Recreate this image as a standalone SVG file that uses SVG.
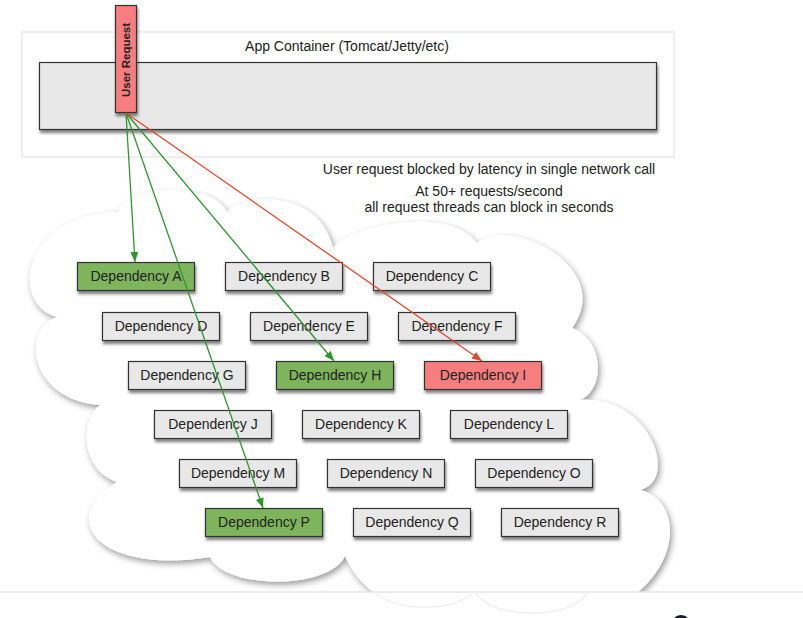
<svg xmlns="http://www.w3.org/2000/svg" width="803" height="618" viewBox="0 0 803 618">
<style>
text{font-family:"Liberation Sans",Arial,sans-serif;fill:#222}
.lbl{font-size:14px;text-anchor:middle}
.note{font-size:14px;text-anchor:middle}
.box{stroke:#333;stroke-width:1.2}
.grey{fill:#e8e8e8}
.green{fill:#7db45c}
.red{fill:#f77e7e}
.gl{stroke:#2f962f;stroke-width:1.3;fill:none}
.rl{stroke:#e2462c;stroke-width:1.3;fill:none}
</style>
<defs>
<filter id="sh" x="-10%" y="-30%" width="130%" height="170%">
<feDropShadow dx="1" dy="3" stdDeviation="1.6" flood-color="#000" flood-opacity="0.5"/>
</filter>
<filter id="csh" x="-10%" y="-10%" width="125%" height="125%">
<feDropShadow dx="2" dy="3" stdDeviation="3" flood-color="#000" flood-opacity="0.4"/>
</filter>
<clipPath id="clip"><rect x="0" y="0" width="803" height="592"/></clipPath>
<marker id="ag" viewBox="0 0 10 8" refX="10" refY="4" markerWidth="10" markerHeight="8" markerUnits="userSpaceOnUse" orient="auto"><path d="M0,0 L10,4 L0,8 z" fill="#2f962f"/></marker>
<marker id="ar" viewBox="0 0 10 8" refX="10" refY="4" markerWidth="10" markerHeight="8" markerUnits="userSpaceOnUse" orient="auto"><path d="M0,0 L10,4 L0,8 z" fill="#e2462c"/></marker>
</defs>
<rect width="803" height="618" fill="#fff"/>

<g id="container">
<rect x="22" y="32" width="652" height="125" fill="#fff" stroke="#dcdcdc" stroke-width="1"/>
<text class="note" x="347" y="51">App Container (Tomcat/Jetty/etc)</text>
<rect class="box grey" x="39.5" y="62.5" width="617" height="67" filter="url(#sh)"/>
</g>

<g id="user-request">
<rect class="box red" x="115.5" y="5.5" width="21" height="107" filter="url(#sh)"/>
<text x="0" y="0" font-size="11.5" font-weight="bold" text-anchor="middle" transform="translate(130,60) rotate(-90)">User Request</text>
</g>

<g id="notes">
<text class="note" x="489" y="174">User request blocked by latency in single network call</text>
<text class="note" x="489" y="196">At 50+ requests/second</text>
<text class="note" x="489" y="212">all request threads can block in seconds</text>
</g>

<g id="cloud" clip-path="url(#clip)">
<path filter="url(#csh)" fill="#fff" d="M57,317 C10,305 20,215 117,212 C130,185 210,180 227,212 C245,192 320,190 333,248 C350,225 450,205 477,243 C515,215 615,270 572,328 C605,340 605,390 580,400 C650,395 680,480 640,490 C685,500 685,580 600,615 C540,640 380,640 345,556 C330,590 225,590 210,557 C100,575 55,520 117,482 C80,470 80,420 100,405 C30,400 20,330 57,317 Z"/>
</g>
<g id="below">
<line x1="0" y1="592" x2="803" y2="592" stroke="#e6e6e6" stroke-width="1.5"/>
<path d="M375,593 C400,612 450,612 473,593 M475,593 C495,620 570,620 587,593" fill="none" stroke="#f0f0f0" stroke-width="1.5"/>
<circle cx="681" cy="625" r="10" fill="#1a1a2a"/>
</g>

<g id="dep-a"><rect class="box green" x="77.5" y="262.5" width="117" height="28" filter="url(#sh)"/><text class="lbl" x="136" y="281">Dependency A</text></g>
<g id="dep-b"><rect class="box grey" x="225.5" y="262.5" width="117" height="28" filter="url(#sh)"/><text class="lbl" x="284" y="281">Dependency B</text></g>
<g id="dep-c"><rect class="box grey" x="373.5" y="262.5" width="117" height="28" filter="url(#sh)"/><text class="lbl" x="432" y="281">Dependency C</text></g>

<g id="dep-d"><rect class="box grey" x="102.5" y="312.5" width="117" height="28" filter="url(#sh)"/><text class="lbl" x="161" y="331">Dependency D</text></g>
<g id="dep-e"><rect class="box grey" x="250.5" y="312.5" width="117" height="28" filter="url(#sh)"/><text class="lbl" x="309" y="331">Dependency E</text></g>
<g id="dep-f"><rect class="box grey" x="398.5" y="312.5" width="117" height="28" filter="url(#sh)"/><text class="lbl" x="457" y="331">Dependency F</text></g>

<g id="dep-g"><rect class="box grey" x="128.5" y="361.5" width="117" height="28" filter="url(#sh)"/><text class="lbl" x="187" y="380">Dependency G</text></g>
<g id="dep-h"><rect class="box green" x="276.5" y="361.5" width="117" height="28" filter="url(#sh)"/><text class="lbl" x="335" y="380">Dependency H</text></g>
<g id="dep-i"><rect class="box red" x="424.5" y="361.5" width="117" height="28" filter="url(#sh)"/><text class="lbl" x="483" y="380">Dependency I</text></g>

<g id="dep-j"><rect class="box grey" x="154.5" y="410.5" width="117" height="28" filter="url(#sh)"/><text class="lbl" x="213" y="429">Dependency J</text></g>
<g id="dep-k"><rect class="box grey" x="302.5" y="410.5" width="117" height="28" filter="url(#sh)"/><text class="lbl" x="361" y="429">Dependency K</text></g>
<g id="dep-l"><rect class="box grey" x="450.5" y="410.5" width="117" height="28" filter="url(#sh)"/><text class="lbl" x="509" y="429">Dependency L</text></g>

<g id="dep-m"><rect class="box grey" x="179.5" y="459.5" width="117" height="28" filter="url(#sh)"/><text class="lbl" x="238" y="478">Dependency M</text></g>
<g id="dep-n"><rect class="box grey" x="327.5" y="459.5" width="117" height="28" filter="url(#sh)"/><text class="lbl" x="386" y="478">Dependency N</text></g>
<g id="dep-o"><rect class="box grey" x="475.5" y="459.5" width="117" height="28" filter="url(#sh)"/><text class="lbl" x="534" y="478">Dependency O</text></g>

<g id="dep-p"><rect class="box green" x="205.5" y="508.5" width="117" height="28" filter="url(#sh)"/><text class="lbl" x="264" y="527">Dependency P</text></g>
<g id="dep-q"><rect class="box grey" x="353.5" y="508.5" width="117" height="28" filter="url(#sh)"/><text class="lbl" x="412" y="527">Dependency Q</text></g>
<g id="dep-r"><rect class="box grey" x="501.5" y="508.5" width="117" height="28" filter="url(#sh)"/><text class="lbl" x="560" y="527">Dependency R</text></g>

<g id="connectors">
<line class="gl" x1="126" y1="113" x2="135" y2="262" marker-end="url(#ag)"/>
<line class="gl" x1="126" y1="113" x2="263" y2="508" marker-end="url(#ag)"/>
<line class="gl" x1="126" y1="113" x2="334" y2="361" marker-end="url(#ag)"/>
<line class="rl" x1="126" y1="113" x2="482" y2="361" marker-end="url(#ar)"/>
</g>
</svg>
